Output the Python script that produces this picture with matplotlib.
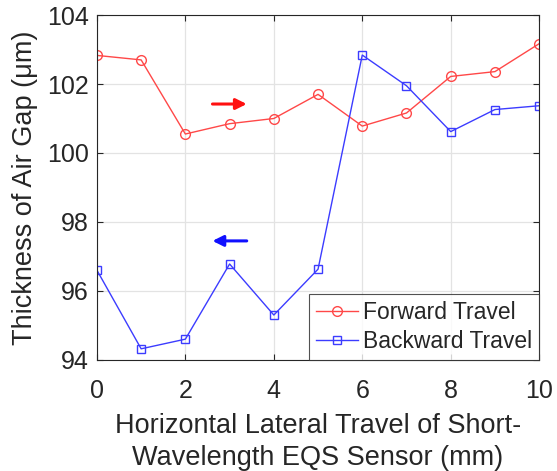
import matplotlib
matplotlib.use("Agg")
import matplotlib.pyplot as plt

plt.rcParams['font.family'] = ['Liberation Sans', 'DejaVu Sans']

positions = [0, 1, 2, 3, 4, 5, 6, 7, 8, 9, 10]
forward = [102.83, 102.70, 100.55, 100.85, 101.00, 101.70, 100.78, 101.16, 102.22, 102.36, 103.17]
backward = [96.60, 94.32, 94.60, 96.78, 95.30, 96.63, 102.84, 101.95, 100.62, 101.26, 101.37]
xticks = [0, 2, 4, 6, 8, 10]
yticks = [94, 96, 98, 100, 102, 104]

red = '#ff4848'
blue = '#3c3cff'
ink = '#262626'

fig = plt.figure(figsize=(5.57, 4.71), dpi=100)
ax = fig.add_axes([0.174, 0.236, 0.794, 0.732])

ax.plot(positions, forward, color=red, lw=1.0, marker='o', ms=7, mfc='none',
        mec=red, mew=1.0, label='Forward Travel')
ax.plot(positions, backward, color=blue, lw=1.0, marker='s', ms=5.5, mfc='none',
        mec=blue, mew=1.0, label='Backward Travel')

# direction arrows
ax.annotate('', xy=(3.45, 101.42), xytext=(2.55, 101.42),
            arrowprops=dict(arrowstyle='-|>', color='#ff1010', lw=2.2, mutation_scale=16))
ax.annotate('', xy=(2.55, 97.45), xytext=(3.45, 97.45),
            arrowprops=dict(arrowstyle='-|>', color='#1010ff', lw=2.2, mutation_scale=16))

ax.set_xlim(0, 10)
ax.set_ylim(94, 104)
ax.set_xticks(xticks)
ax.set_yticks(yticks)
ax.tick_params(direction='in', length=4, width=0.8, top=True, right=True,
               labelsize=18, colors=ink)
ax.tick_params(axis='x', pad=14)
ax.tick_params(axis='y', pad=6)
ax.grid(True, color='#e3e3e3', lw=0.9)
ax.set_axisbelow(True)
for s in ax.spines.values():
    s.set_color(ink)
    s.set_linewidth(0.8)

ax.set_xlabel('Horizontal Lateral Travel of Short-\nWavelength EQS Sensor (mm)',
              fontsize=19.5, color=ink, labelpad=7, linespacing=1.3)
ax.set_ylabel('Thickness of Air Gap (μm)', fontsize=19.5, color=ink, labelpad=6)

leg = ax.legend(loc='lower right', fontsize=16.5, frameon=True, fancybox=False,
                edgecolor=ink, borderaxespad=0.0, handlelength=1.85,
                handletextpad=0.22, borderpad=0.3, labelspacing=0.25)
leg.get_frame().set_linewidth(0.8)
for t in leg.get_texts():
    t.set_color(ink)

fig.savefig('out.png', dpi=100)
